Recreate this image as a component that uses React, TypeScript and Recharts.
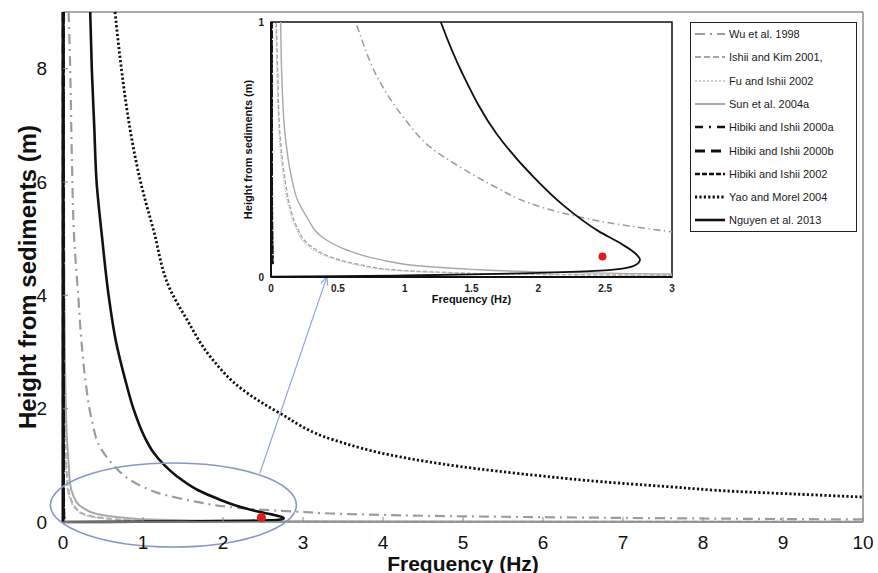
import React from 'react';
import {
  ComposedChart,
  Line,
  Scatter,
  XAxis,
  YAxis,
  ReferenceLine,
  ReferenceDot,
  ReferenceArea,
  Legend,
} from 'recharts';

const FONT = '"Liberation Sans", Arial, Helvetica, sans-serif';

// [frequency (Hz), height from sediments (m)]
const wu1998 = [
  [0.07, 9], [0.09, 8], [0.11, 6.5], [0.14, 5], [0.19, 4], [0.23, 3.2], [0.28, 2.5],
  [0.36, 1.8], [0.46, 1.33], [0.64, 0.99], [0.82, 0.76], [1.0, 0.62], [1.19, 0.51],
  [1.45, 0.42], [1.69, 0.35], [1.93, 0.29], [2.19, 0.25], [2.45, 0.22], [2.68, 0.2],
  [2.98, 0.178], [3.35, 0.15], [4, 0.125], [5, 0.1], [6, 0.085], [7, 0.072],
  [8, 0.062], [9, 0.052], [10, 0.045],
];
const ishiiKim2001 = [
  [0.005, 9], [0.008, 6], [0.012, 4], [0.02, 2.4], [0.03, 1.5], [0.04, 1.0],
  [0.05, 0.8], [0.067, 0.56], [0.1, 0.4], [0.14, 0.28], [0.19, 0.2], [0.3, 0.12],
  [0.44, 0.08], [0.65, 0.05], [0.94, 0.027], [1.3, 0.018], [1.69, 0.012],
  [2.3, 0.009], [3, 0.007], [5, 0.005], [10, 0.003],
];
const fuIshii2002 = [
  [0.004, 9], [0.006, 6], [0.01, 4], [0.017, 2.4], [0.026, 1.5], [0.035, 1.0],
  [0.045, 0.8], [0.06, 0.56], [0.09, 0.4], [0.13, 0.28], [0.18, 0.2], [0.28, 0.12],
  [0.42, 0.08], [0.62, 0.05], [0.9, 0.027], [1.25, 0.018], [1.65, 0.012],
  [2.3, 0.0085], [3, 0.0065], [5, 0.0045], [10, 0.0025],
];
const sun2004a = [
  [0.01, 9], [0.013, 6], [0.018, 4], [0.03, 2.4], [0.048, 1.5], [0.072, 1.0],
  [0.08, 0.8], [0.105, 0.56], [0.15, 0.4], [0.2, 0.3], [0.267, 0.236], [0.4, 0.15],
  [0.566, 0.106], [0.8, 0.07], [1.19, 0.04], [1.5, 0.03], [1.94, 0.021],
  [2.5, 0.015], [3, 0.012], [5, 0.008], [10, 0.004],
];
const hibikiIshii2000a = [[0.004, 9], [0.005, 4], [0.006, 1], [0.008, 0.3], [0.012, 0.05]];
const hibikiIshii2000b = [[0.003, 9], [0.004, 4], [0.005, 1], [0.007, 0.3], [0.01, 0.05]];
const hibikiIshii2002 = [[0.005, 9], [0.006, 4], [0.007, 1], [0.009, 0.3], [0.014, 0.05]];
const yaoMorel2004 = [
  [0.65, 9], [0.73, 8], [0.83, 7], [0.97, 6], [1.13, 5.16], [1.34, 4.1], [1.55, 3.57],
  [1.84, 2.92], [2.25, 2.33], [2.71, 1.92], [3.38, 1.45], [4.21, 1.15], [4.96, 0.98],
  [6, 0.81], [6.74, 0.71], [7.6, 0.62], [8.4, 0.54], [9.2, 0.49], [10, 0.44],
];
const nguyen2013 = [
  [0.34, 9], [0.36, 8], [0.39, 7], [0.42, 6], [0.49, 5], [0.57, 4], [0.66, 3.2],
  [0.78, 2.5], [0.88, 2.0], [1.02, 1.5], [1.12, 1.25], [1.27, 1.0], [1.43, 0.8],
  [1.69, 0.56], [1.95, 0.4], [2.19, 0.28], [2.45, 0.18], [2.62, 0.13], [2.72, 0.095],
  [2.76, 0.068], [2.72, 0.045], [2.58, 0.03], [2.3, 0.021], [1.94, 0.015], [1.5, 0.01],
  [1.0, 0.006], [0.5, 0.003], [0, 0.001],
];
const measured = [[2.48, 0.08]];

const mainXTicks = [0, 1, 2, 3, 4, 5, 6, 7, 8, 9, 10];
const mainYTicks = [0, 2, 4, 6, 8];
const insetXTicks = [0, 0.5, 1, 1.5, 2, 2.5, 3];
const insetYTicks = [0, 1];

// annotation: ellipse round the zoomed region and arrow to the inset
const ZOOM_CENTER = { f: 1.38, h: 0.3 };
const ARROW_FROM = { f: 2.46, h: 0.86 };
const ARROW_TO = { f: 3.3, h: 4.33 };

const toPts = (arr: number[][]) => arr.map(([f, h]) => ({ f, h }));

const series = [
  { name: 'Wu et al. 1998', data: wu1998, color: '#9c9c9c', width: 2.2, dash: '10 5 2 5' },
  { name: 'Ishii and Kim 2001,', data: ishiiKim2001, color: '#a6a6a6', width: 2, dash: '6 3' },
  { name: 'Fu and Ishii 2002', data: fuIshii2002, color: '#bdbdbd', width: 1.6, dash: '2 2' },
  { name: 'Sun et al. 2004a', data: sun2004a, color: '#a8a8a8', width: 2, dash: undefined },
  { name: 'Hibiki and Ishii 2000a', data: hibikiIshii2000a, color: '#111', width: 2.5, dash: '8 6 2 6' },
  { name: 'Hibiki and Ishii 2000b', data: hibikiIshii2000b, color: '#111', width: 3, dash: '10 6' },
  { name: 'Hibiki and Ishii 2002', data: hibikiIshii2002, color: '#111', width: 2.5, dash: '5 2' },
  { name: 'Yao and Morel 2004', data: yaoMorel2004, color: '#111', width: 2.8, dash: '2.2 2.2' },
  { name: 'Nguyen et al. 2013', data: nguyen2013, color: '#111', width: 2.6, dash: undefined },
];

const scaleDash = (dash: string | undefined, k: number) =>
  dash ? dash.split(' ').map((d) => Number(d) * k).join(' ') : undefined;

const renderLegend = () => (
  <div
    style={{
      position: 'relative',
      width: 167,
      height: 210,
      border: '1.5px solid #222',
      background: '#fff',
      boxSizing: 'border-box',
      fontFamily: FONT,
      fontSize: 11,
      color: '#1a1a1a',
      textAlign: 'left',
    }}
  >
    {series.map((s, i) => (
      <div
        key={s.name}
        style={{
          position: 'absolute',
          left: 3,
          top: 3 + i * 23.3,
          height: 16,
          display: 'flex',
          alignItems: 'center',
          whiteSpace: 'nowrap',
        }}
      >
        <svg width={32} height={16}>
          <line x1={1} y1={8} x2={31} y2={8} stroke={s.color} strokeWidth={s.width} strokeDasharray={s.dash} />
        </svg>
        <span style={{ marginLeft: 3 }}>{s.name}</span>
      </div>
    ))}
  </div>
);

const renderXTitle = (size: number, offset: number, text: string) => (props: any) => {
  const vb = props.viewBox || {};
  return (
    <text
      x={vb.x + vb.width / 2}
      y={vb.y + vb.height - offset}
      textAnchor="middle"
      fontFamily={FONT}
      fontWeight="bold"
      fontSize={size}
      fill="#111"
    >
      {text}
    </text>
  );
};

const renderYTitle = (size: number, dx: number, dy: number, text: string) => (props: any) => {
  const vb = props.viewBox || {};
  const cx = vb.x + dx;
  const cy = vb.y + vb.height / 2 + dy;
  return (
    <text
      x={cx}
      y={cy}
      transform={`rotate(-90 ${cx} ${cy})`}
      textAnchor="middle"
      dominantBaseline="central"
      fontFamily={FONT}
      fontWeight="bold"
      fontSize={size}
      fill="#111"
    >
      {text}
    </text>
  );
};

const renderArrow = (props: any) => {
  const { x1, y1, x2, y2 } = props;
  const ang = Math.atan2(y2 - y1, x2 - x1);
  const len = 9;
  const a1 = ang + Math.PI - 0.4;
  const a2 = ang + Math.PI + 0.4;
  return (
    <g stroke="#8fa7dc" strokeWidth={1.2} fill="none">
      <line x1={x1} y1={y1} x2={x2} y2={y2} />
      <line x1={x2} y1={y2} x2={x2 + len * Math.cos(a1)} y2={y2 + len * Math.sin(a1)} />
      <line x1={x2} y1={y2} x2={x2 + len * Math.cos(a2)} y2={y2 + len * Math.sin(a2)} />
    </g>
  );
};

const renderEllipse = (props: any) => (
  <ellipse cx={props.cx} cy={props.cy} rx={123} ry={42} fill="none" stroke="#8897c6" strokeWidth={1.6} />
);

const redDot = (r: number) => (props: any) => <circle cx={props.cx} cy={props.cy} r={r} fill="#e01b1b" />;

const MainChart = () => (
  <ComposedChart width={878} height={573} margin={{ top: 12, right: 15, bottom: 0, left: 0 }}>
    <XAxis
      type="number"
      dataKey="f"
      domain={[0, 10]}
      ticks={mainXTicks}
      interval={0}
      height={51}
      tickSize={-5}
      tickMargin={19}
      axisLine={{ stroke: '#8c8c8c', strokeWidth: 1.5 }}
      tickLine={{ stroke: '#8c8c8c' }}
      tick={{ fontSize: 19, fill: '#111', fontFamily: FONT }}
      label={renderXTitle(21, 2, 'Frequency (Hz)')}
    />
    <YAxis
      type="number"
      dataKey="h"
      domain={[0, 9]}
      ticks={mainYTicks}
      interval={0}
      width={63}
      tickSize={-5}
      tickMargin={21}
      axisLine={{ stroke: '#111', strokeWidth: 3 }}
      tickLine={{ stroke: '#8c8c8c' }}
      tick={{ fontSize: 19, fill: '#111', fontFamily: FONT }}
      label={renderYTitle(24, 27, 10, 'Height from sediments (m)')}
    />
    <ReferenceLine y={9} stroke="#8c8c8c" strokeWidth={1.5} />
    <ReferenceLine x={10} stroke="#8c8c8c" strokeWidth={1.5} />
    {series.map((s) => (
      <Line
        key={s.name}
        name={s.name}
        data={toPts(s.data)}
        dataKey="h"
        type="monotoneY"
        stroke={s.color}
        strokeWidth={s.width}
        strokeDasharray={s.dash}
        dot={false}
        activeDot={false}
        isAnimationActive={false}
      />
    ))}
    <Scatter data={toPts(measured)} dataKey="h" shape={redDot(4.5)} isAnimationActive={false} legendType="none" />
    <ReferenceDot x={ZOOM_CENTER.f} y={ZOOM_CENTER.h} ifOverflow="visible" shape={renderEllipse} />
    <ReferenceLine
      segment={[
        { x: ARROW_FROM.f, y: ARROW_FROM.h },
        { x: ARROW_TO.f, y: ARROW_TO.h },
      ]}
      ifOverflow="visible"
      shape={renderArrow}
    />
    <Legend
      layout="vertical"
      align="center"
      verticalAlign="middle"
      content={renderLegend}
      wrapperStyle={{ left: 690, top: 22, width: 167, height: 210 }}
    />
  </ComposedChart>
);

const InsetChart = () => (
  <ComposedChart width={455} height={300} margin={{ top: 12, right: 8, bottom: 0, left: 0 }}>
    <XAxis
      type="number"
      dataKey="f"
      domain={[0, 3]}
      ticks={insetXTicks}
      interval={0}
      allowDataOverflow
      height={33}
      tickSize={0}
      tickMargin={8}
      tickLine={false}
      axisLine={{ stroke: '#111', strokeWidth: 2 }}
      tick={{ fontSize: 10, fontWeight: 'bold', fill: '#222', fontFamily: FONT }}
      label={renderXTitle(11, 7, 'Frequency (Hz)')}
    />
    <YAxis
      type="number"
      dataKey="h"
      domain={[0, 1]}
      ticks={insetYTicks}
      interval={0}
      allowDataOverflow
      width={46}
      tickSize={0}
      tickMargin={7}
      tickLine={false}
      axisLine={{ stroke: '#111', strokeWidth: 2 }}
      tick={{ fontSize: 10, fontWeight: 'bold', fill: '#222', fontFamily: FONT }}
      label={renderYTitle(11, 23, 0, 'Height from sediments (m)')}
    />
    <ReferenceArea x1={0} x2={3} y1={0} y2={1} fill="none" stroke="#111" strokeWidth={1.5} ifOverflow="visible" />
    {series.map((s) => (
      <Line
        key={s.name}
        name={s.name}
        data={toPts(s.data)}
        dataKey="h"
        type="monotoneY"
        stroke={s.color}
        strokeWidth={s.width * 0.7}
        strokeDasharray={scaleDash(s.dash, 0.7)}
        dot={false}
        activeDot={false}
        isAnimationActive={false}
      />
    ))}
    <Scatter data={toPts(measured)} dataKey="h" shape={redDot(4)} isAnimationActive={false} />
  </ComposedChart>
);

export default function App() {
  return (
    <div style={{ position: 'absolute', left: 0, top: 0, width: 878, height: 573, background: '#fff', overflow: 'hidden' }}>
      <div style={{ position: 'absolute', left: 0, top: 0 }}>
        <MainChart />
      </div>
      <div style={{ position: 'absolute', left: 225, top: 10 }}>
        <InsetChart />
      </div>
    </div>
  );
}
